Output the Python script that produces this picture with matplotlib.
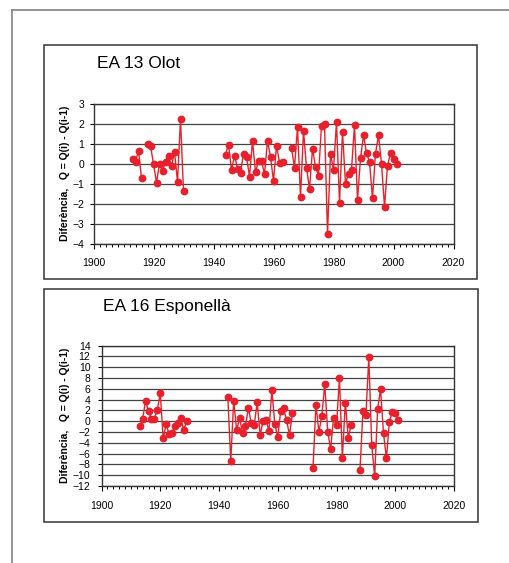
import matplotlib
matplotlib.use('Agg')
import numpy as np
import matplotlib.pyplot as plt
from matplotlib.ticker import MultipleLocator
from matplotlib.patches import Rectangle
from matplotlib.lines import Line2D

plt.rcParams['font.family'] = ['Liberation Sans', 'DejaVu Sans']

# ---------------- data ----------------
# EA 13 Olot
olot_years_a = [1913, 1914, 1915, 1916]
olot_vals_a = [0.25, 0.08, 0.63, -0.72]
olot_years_b = list(range(1918, 1931))
olot_vals_b = [1.0, 0.9, -0.03, -0.95, 0.0, -0.37, 0.08, 0.38, -0.12, 0.58, -0.92, 2.22, -1.37]
olot_years_c = list(range(1944, 1964))
olot_vals_c = [0.45, 0.95, -0.33, 0.4, -0.25, -0.45, 0.47, 0.33, -0.65, 1.13,
               -0.43, 0.15, 0.12, -0.53, 1.13, 0.33, -0.87, 0.9, 0.05, 0.1]
olot_years_d = list(range(1966, 2002))
olot_vals_d = [0.77, -0.2, 1.82, -1.67, 1.63, -0.2, -1.28, 0.73, -0.17, -0.6,
               1.88, 1.97, -3.5, 0.48, -0.3, 2.07, -1.97, 1.57, -1.0, -0.5,
               -0.3, 1.92, -1.83, 0.27, 1.42, 0.52, 0.07, -1.73, 0.5, 1.42,
               -0.02, -2.15, -0.12, 0.53, 0.22, -0.02]

# EA 16 Esponellà
esp_years_a = list(range(1913, 1930))
esp_vals_a = [-0.84, 0.39, 3.76, 1.8, 0.45, 0.45, 2.1, 5.17, -3.2, -0.6,
              -2.37, -2.2, -0.96, -0.35, 0.5, -1.57, 0.0]
esp_years_b = list(range(1943, 1966))
esp_vals_b = [4.56, -7.4, 3.8, -1.7, 0.63, -2.2, -0.9, 2.35, -0.35, -0.66,
              3.47, -2.56, 0.08, 0.26, -1.88, 5.72, -0.53, -2.99, 1.86, 2.35,
              0.14, -2.56, 1.43]
esp_years_c = list(range(1972, 1986))
esp_vals_c = [-8.7, 3.07, -2.0, 0.94, 6.89, -1.94, -5.2, 0.63, -0.78, 7.93,
              -6.8, 3.45, -3.05, -0.66]
esp_years_d = list(range(1988, 2002))
esp_vals_d = [-9.0, 1.86, 1.06, 11.8, -4.5, -10.2, 2.29, 5.9, -2.25, -6.9,
              -0.1, 1.74, 1.43, 0.14]

titles = ['EA 13 Olot', 'EA 16 Esponellà']
ylabel = 'Diferència,   Q = Q(i) - Q(i-1)'
x_ticks = [1900, 1920, 1940, 1960, 1980, 2000, 2020]

# ---------------- layout ----------------
W, H = 509, 563
fig = plt.figure(figsize=(W / 100, H / 100), dpi=100)
fig.patch.set_facecolor('white')


def fx(px):
    return px / W


def fy(py):
    return 1 - py / H


# outer frame (left + top edges)
fig.add_artist(Line2D([fx(11.5), fx(11.5)], [fy(9.5), fy(563)], color='#8c8c8c',
                      lw=1.3, transform=fig.transFigure))
fig.add_artist(Line2D([fx(11.5), fx(509)], [fy(9.5), fy(9.5)], color='#8c8c8c',
                      lw=1.3, transform=fig.transFigure))

# chart boxes
for (l, t, r, b) in [(43.5, 45.5, 476.5, 278.5), (43.5, 288.5, 477.5, 521.5)]:
    fig.add_artist(Rectangle((fx(l), fy(b)), (r - l) / W, (b - t) / H, fill=False,
                             edgecolor='#333333', lw=1.1, transform=fig.transFigure))

red = '#e8202b'


def make_axes(rect, segments, ylim, ystep, ypad, title, title_pos):
    l, t, r, b = rect
    ax = fig.add_axes([fx(l), fy(b), (r - l) / W, (b - t) / H])
    for yrs, vals in segments:
        ax.plot(yrs, vals, color=red, lw=1.0, marker='o', ms=4.6,
                markerfacecolor=red, markeredgecolor=red, zorder=3)
    ax.set_xlim(1900, 2020)
    ax.set_ylim(*ylim)
    ax.set_xticks(x_ticks)
    ax.xaxis.set_minor_locator(MultipleLocator(2))
    ax.yaxis.set_major_locator(MultipleLocator(ystep))
    ax.grid(axis='y', which='major', color='#444444', lw=0.9, zorder=1)
    ax.set_axisbelow(True)
    for s in ax.spines.values():
        s.set_color('#333333')
        s.set_linewidth(1.0)
    ax.tick_params(axis='x', which='major', direction='out', length=3.5, width=0.8,
                   labelsize=7.5, pad=7, color='black')
    ax.tick_params(axis='x', which='minor', direction='out', length=2.5, width=0.7,
                   color='black')
    ax.tick_params(axis='y', which='major', direction='out', length=3, width=0.8,
                   labelsize=7.5, pad=ypad, color='black')
    fig.text(fx(title_pos[0]), fy(title_pos[1]), title, fontsize=12.5,
             ha='left', va='center')
    fig.text(fx(65), fy((t + b) / 2), ylabel, rotation=90, fontsize=7.5,
             fontweight='bold', ha='center', va='center')
    return ax


make_axes((93.5, 103.5, 453.5, 243.5),
          [(olot_years_a, olot_vals_a), (olot_years_b, olot_vals_b),
           (olot_years_c, olot_vals_c), (olot_years_d, olot_vals_d)],
          (-4, 3), 1, 3.5, titles[0], (97, 63))

make_axes((101.5, 345.5, 454, 486),
          [(esp_years_a, esp_vals_a), (esp_years_b, esp_vals_b),
           (esp_years_c, esp_vals_c), (esp_years_d, esp_vals_d)],
          (-12, 14), 2, 5, titles[1], (103, 307))

fig.savefig('out.png', dpi=100, facecolor='white')
